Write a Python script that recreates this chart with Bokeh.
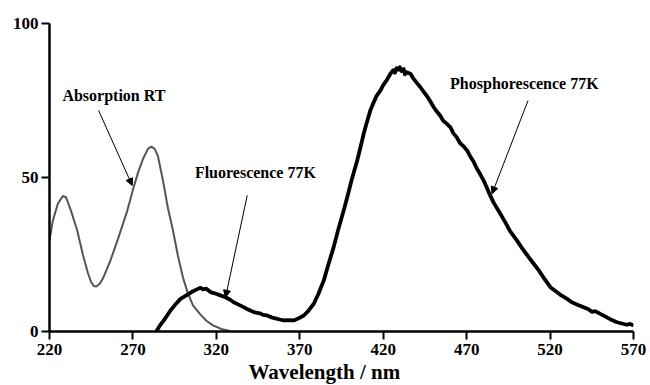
from bokeh.plotting import figure
from bokeh.models import Range1d, Label, Arrow, NormalHead, FixedTicker, Title
from bokeh.embed import file_html
from bokeh.resources import INLINE

# Absorption at room temperature (nm, intensity)
abs_nm = [220, 222, 225, 228, 230, 233, 236.6, 240, 243, 245, 246.5, 248, 250, 252, 256.5, 261,
          266.5, 270, 273, 276, 279, 281, 283, 285, 288, 291, 294, 297, 300, 303, 306,
          310, 314, 318, 323, 328]
abs_val = [29.5, 36, 41.5, 44, 43.5, 39, 32.8, 25, 19, 16, 14.8, 14.6, 15.4, 17.2, 23, 30,
           39, 46, 51.5, 56, 59.3, 60, 59.3, 57, 49, 40, 32.8, 24.5, 17.5, 12.3, 8.5,
           5.8, 3.5, 2, 0.8, 0.2]

# Emission at 77K (fluorescence + phosphorescence)
em_nm = [284, 286, 288.5, 290.5, 292.5, 295, 298.5, 301, 303.5, 306, 308, 310.5, 312, 314,
         316.5, 319, 322, 325.5, 328, 330.4, 333, 336, 338, 340.4, 343, 346, 348, 350.4,
         353, 356, 358, 360.4, 363, 366.4, 369, 372.4, 375, 378.4, 381, 384.4, 387, 390.3,
         393, 396.3, 398.4, 401, 404.4, 406, 408.3, 410, 412.3, 414, 416, 418.3, 420, 422,
         424.3, 426, 427, 428, 429.3, 430, 431, 432.3, 433, 434, 436.3, 438, 440, 442.3,
         444, 446, 448, 450.3, 452, 454, 456, 458, 460.3, 462, 464, 466, 468, 470.3,
         472, 474, 476, 478, 480.2, 483, 486, 490.2, 493, 496, 500.2, 503, 506, 510.2,
         513, 516, 520.2, 523, 526, 530.2, 533, 536, 540.1, 543, 545, 547, 550.1, 553,
         556, 560.1, 563, 566, 568, 570]
em_val = [0, 1.8, 3.6, 5.2, 6.8, 8.5, 10.6, 11.4, 12.2, 13.1, 13.6, 14.2, 13.7, 13.9,
          12.8, 12.4, 11.8, 11.1, 10.4, 9.5, 8.8, 8.0, 7.4, 6.8, 6.2, 5.9, 5.4, 5.2,
          4.6, 4.2, 3.9, 3.6, 3.7, 3.6, 4.2, 5.2, 6.6, 9.0, 12.0, 16.6, 21.5, 27.4,
          33, 39.3, 43.5, 49, 55.5, 59, 64.2, 67.5, 71.8, 74, 76.5, 78.2, 80, 81.5,
          83.7, 84.8, 84.0, 85.5, 85.0, 85.8, 84.6, 85.2, 83.5, 84.2, 83.7, 82.2, 80.8, 79.3,
          78.0, 76.6, 74.9, 72.8, 71.5, 70.2, 68.4, 67.5, 66.3, 64.4, 63.1, 61.2, 60.2, 58.8,
          57.0, 55.3, 53.0, 51.2, 49.0, 45.5, 42.0, 38.2, 35.6, 32.6, 29.5, 27.2, 25.0, 22.0,
          20.0, 17.6, 14.4, 13.2, 12.0, 10.6, 9.5, 8.8, 7.9, 7.2, 6.4, 6.6, 5.7, 4.9,
          4.0, 3.0, 2.6, 2.2, 2.5, 1.9]

x_ticks = [220, 270, 320, 370, 420, 470, 520, 570]
y_ticks = [0, 50, 100]
x_title = "Wavelength / nm"

FONT = "Liberation Serif"

p = figure(width=650, height=385, output_backend="svg", toolbar_location=None,
           x_range=Range1d(220, 570), y_range=Range1d(0, 100),
           min_border_left=49, min_border_right=17, min_border_top=23, min_border_bottom=54)
p.outline_line_color = None
p.grid.visible = False
p.background_fill_color = "white"
p.border_fill_color = "white"

for ax in (p.xaxis[0], p.yaxis[0]):
    ax.axis_line_width = 2.5
    ax.axis_line_color = "black"
    ax.major_tick_line_width = 2
    ax.major_tick_line_color = "black"
    ax.major_tick_in = 0
    ax.major_tick_out = 8
    ax.minor_tick_line_color = None
    ax.major_label_text_font = FONT
    ax.major_label_text_font_style = "bold"
    ax.major_label_text_font_size = "17px"
    ax.major_label_text_color = "black"

p.xaxis.ticker = FixedTicker(ticks=x_ticks)
p.yaxis.ticker = FixedTicker(ticks=y_ticks)
p.xaxis.major_label_standoff = 4
p.yaxis.major_label_standoff = 3

p.line(abs_nm, abs_val, line_color="#555555", line_width=2)
p.line(em_nm, em_val, line_color="black", line_width=3.8, line_join="round")

p.add_layout(Title(text=x_title, align="left", offset=199, standoff=0,
                   text_font=FONT, text_font_style="bold", text_font_size="21px",
                   text_color="black"), "below")

def note(text, x, y):
    p.add_layout(Label(x=x, y=y, text=text, text_font=FONT, text_font_style="bold",
                       text_font_size="16px", text_align="center", text_baseline="middle",
                       text_color="black"))

def arrow(x0, y0, x1, y1):
    p.add_layout(Arrow(x_start=x0, y_start=y0, x_end=x1, y_end=y1, line_width=1,
                       line_color="black",
                       end=NormalHead(size=7, fill_color="black", line_color="black")))

note("Absorption RT", 258.6, 76.6)
arrow(249.4, 71.8, 269.6, 47.4)
note("Fluorescence 77K", 343.4, 51.6)
arrow(338.5, 44.2, 325.5, 11.1)
note("Phosphorescence 77K", 504.6, 80.5)
arrow(506.8, 75, 485.2, 44.7)

open("out.html", "w").write(file_html(p, INLINE))
